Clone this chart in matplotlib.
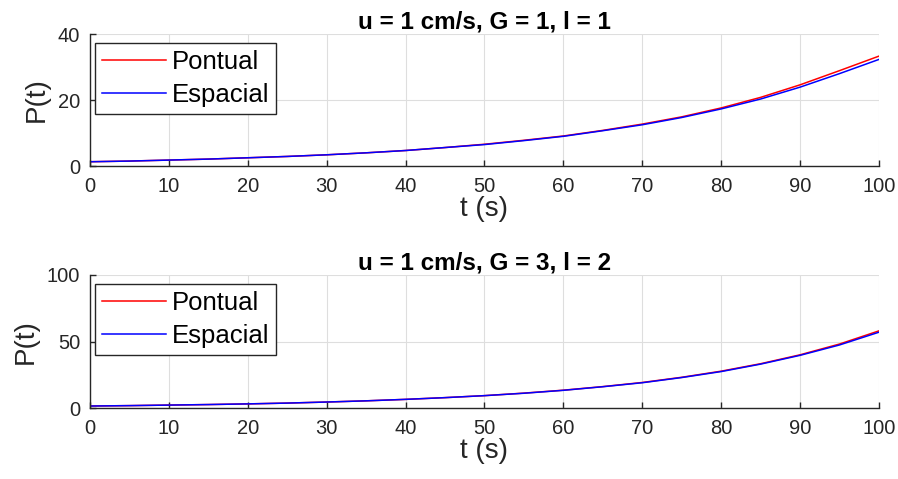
import matplotlib
matplotlib.use("Agg")
import matplotlib.pyplot as plt

plt.rcParams['font.family'] = ['Liberation Sans', 'DejaVu Sans']

t = [0, 5, 10, 15, 20, 25, 30, 35, 40, 45, 50, 55, 60, 65, 70, 75, 80, 85, 90, 95, 100]

pontual_1 = [1.3, 1.5, 1.8, 2.1, 2.5, 2.9, 3.4, 4.0, 4.7, 5.6, 6.6, 7.8, 9.1, 10.8, 12.7, 14.9, 17.6, 20.8, 24.6, 28.9, 33.3]
espacial_1 = [1.3, 1.5, 1.8, 2.1, 2.5, 2.9, 3.4, 4.0, 4.7, 5.6, 6.5, 7.7, 9.0, 10.7, 12.5, 14.7, 17.3, 20.3, 23.9, 28.0, 32.3]

pontual_2 = [1.5, 1.8, 2.2, 2.6, 3.1, 3.7, 4.5, 5.4, 6.5, 7.8, 9.3, 11.2, 13.4, 16.1, 19.2, 23.1, 27.7, 33.3, 40.0, 48.1, 58.0]
espacial_2 = [1.5, 1.8, 2.2, 2.6, 3.1, 3.7, 4.5, 5.4, 6.5, 7.8, 9.3, 11.1, 13.3, 16.0, 19.0, 22.9, 27.4, 33.0, 39.6, 47.4, 57.0]

titles = ["u = 1 cm/s, G = 1, l = 1", "u = 1 cm/s, G = 3, l = 2"]
ylims = [(0, 40), (0, 100)]
yticks = [[0, 20, 40], [0, 50, 100]]
xticks = list(range(0, 101, 10))

fig = plt.figure(figsize=(8.98, 4.79), dpi=100)
positions = [[0.1002, 0.6534, 0.8786, 0.2756], [0.1002, 0.1482, 0.8786, 0.2777]]
series = [(pontual_1, espacial_1), (pontual_2, espacial_2)]

axcol = '#262626'
for i in range(2):
    ax = fig.add_axes(positions[i])
    p, e = series[i]
    ax.plot(t, p, color='#ff0000', lw=1.1, label='Pontual')
    ax.plot(t, e, color='#0000ff', lw=1.1, label='Espacial')
    ax.set_xlim(0, 100)
    ax.set_ylim(*ylims[i])
    ax.set_xticks(xticks)
    ax.set_yticks(yticks[i])
    ax.grid(True, color='#dedede', lw=0.8)
    ax.set_axisbelow(True)
    for s in ['top', 'right']:
        ax.spines[s].set_visible(False)
    for s in ['bottom', 'left']:
        ax.spines[s].set_color(axcol)
        ax.spines[s].set_linewidth(1.0)
    ax.tick_params(direction='in', length=4, width=1.0, colors=axcol,
                   labelsize=14.5, labelcolor=axcol)
    ax.tick_params(axis='x', pad=8)
    ax.tick_params(axis='y', pad=7)
    ax.set_title(titles[i], fontsize=17.5, fontweight='bold', color='black', pad=4)
    ax.set_xlabel('t (s)', fontsize=20, color=axcol, labelpad=0)
    ax.set_ylabel('P(t)', fontsize=20, color=axcol, labelpad=6)
    h_ax = positions[i][3] * 479
    leg = ax.legend(loc='upper left', bbox_to_anchor=(5 / 789, 1 - 9 / h_ax),
                    fontsize=18.5, frameon=True, fancybox=False,
                    edgecolor='#262626', framealpha=1, borderpad=0.28,
                    handlelength=2.5, handletextpad=0.2, labelspacing=0.34,
                    borderaxespad=0)
    leg.get_frame().set_linewidth(1.0)

fig.savefig('out.png', dpi=100)
